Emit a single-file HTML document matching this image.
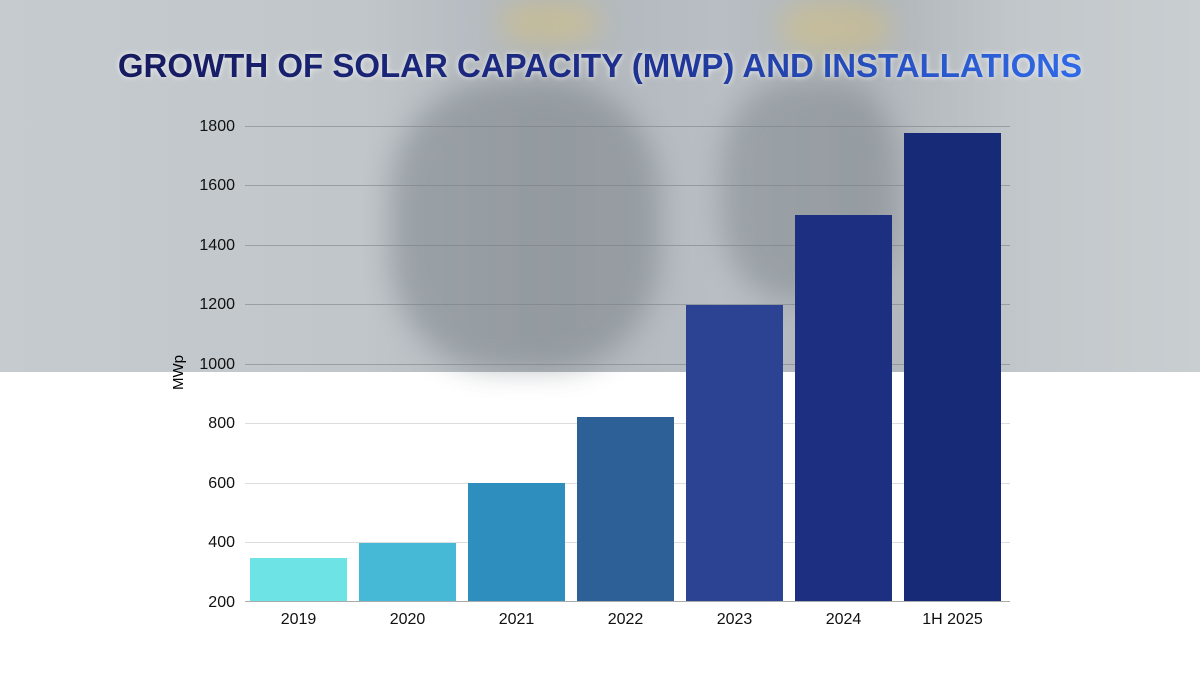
<!DOCTYPE html>
<html><head><meta charset="utf-8"><style>
body{margin:0;width:1200px;height:675px;overflow:hidden;background:#fff;font-family:"Liberation Sans",sans-serif;position:relative}
.photo{position:absolute;left:0;top:0;width:1200px;height:372px;background:linear-gradient(90deg,#c6cbcf 0%,#c0c6ca 30%,#b0b6bb 45%,#b8bec3 60%,#aeb4b9 72%,#c2c7cb 85%,#c9ced1 100%)}
.blob{position:absolute;border-radius:40%;filter:blur(14px)}
.title{position:absolute;left:0;width:1200px;top:45px;text-align:center;font-weight:bold;font-size:33px;line-height:42px;}
.title span{background:linear-gradient(90deg,#161a5e,#1d2d8a 50%,#2f6ae8);-webkit-background-clip:text;background-clip:text;color:transparent;filter:drop-shadow(0 0 3px rgba(255,255,255,.8))}
.yl{position:absolute;right:965px;font-size:16px;color:#111;line-height:18px}
.grid{position:absolute;left:245px;width:765px;height:1px;background:rgba(120,125,130,.55)}
.bar{position:absolute;width:97px}
.xl{position:absolute;width:109px;text-align:center;font-size:16px;color:#111;top:611px}
</style></head><body>
<div class="photo">
<div class="blob" style="left:390px;top:80px;width:270px;height:290px;background:#737a80;opacity:.45"></div>
<div class="blob" style="left:720px;top:80px;width:180px;height:220px;background:#737a80;opacity:.4"></div>
<div class="blob" style="left:500px;top:0;width:100px;height:45px;background:#d9c27a;opacity:.5"></div>
<div class="blob" style="left:780px;top:0;width:110px;height:55px;background:#d9c27a;opacity:.5"></div>
</div>
<div class="title"><span>GROWTH OF SOLAR CAPACITY (MWP) AND INSTALLATIONS</span></div>
<div class="grid" style="top:126px"></div>
<div class="grid" style="top:185px"></div>
<div class="grid" style="top:245px"></div>
<div class="grid" style="top:304px"></div>
<div class="grid" style="top:364px"></div>
<div class="grid" style="top:423px;background:#ddd"></div>
<div class="grid" style="top:483px;background:#ddd"></div>
<div class="grid" style="top:542px;background:#ddd"></div>
<div class="yl" style="top:118px">1800</div>
<div class="yl" style="top:177px">1600</div>
<div class="yl" style="top:237px">1400</div>
<div class="yl" style="top:296px">1200</div>
<div class="yl" style="top:356px">1000</div>
<div class="yl" style="top:415px">800</div>
<div class="yl" style="top:475px">600</div>
<div class="yl" style="top:534px">400</div>
<div class="yl" style="top:594px">200</div>
<div style="position:absolute;font-size:15px;transform:rotate(-90deg);transform-origin:left top;top:390px;left:170px">MWp</div>
<div class="bar" style="left:250px;top:558px;height:44px;background:#6de3e6"></div>
<div class="bar" style="left:359px;top:543px;height:59px;background:#45b9d6"></div>
<div class="bar" style="left:468px;top:483px;height:119px;background:#2e8fbf"></div>
<div class="bar" style="left:577px;top:417px;height:185px;background:#2d6096"></div>
<div class="bar" style="left:686px;top:305px;height:297px;background:#2c4393"></div>
<div class="bar" style="left:795px;top:215px;height:387px;background:#1c2f80"></div>
<div class="bar" style="left:904px;top:133px;height:469px;background:#172a78"></div>
<div class="grid" style="top:601px;background:#aaa"></div>
<div class="xl" style="left:244px">2019</div>
<div class="xl" style="left:353px">2020</div>
<div class="xl" style="left:462px">2021</div>
<div class="xl" style="left:571px">2022</div>
<div class="xl" style="left:680px">2023</div>
<div class="xl" style="left:789px">2024</div>
<div class="xl" style="left:898px">1H 2025</div>
</body></html>
